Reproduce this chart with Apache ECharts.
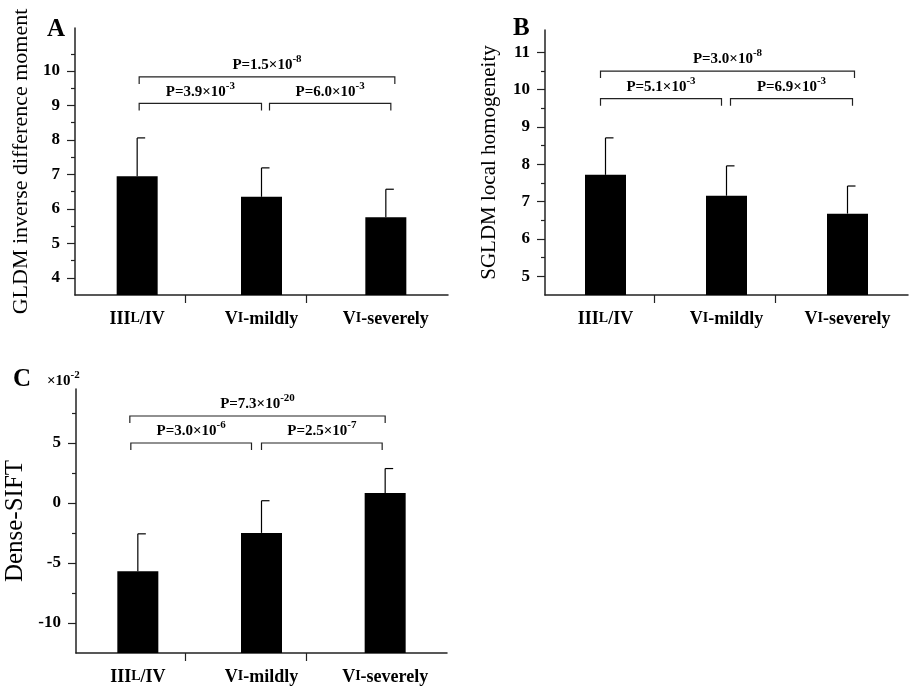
<!DOCTYPE html>
<html><head><meta charset="utf-8">
<script src="https://cdn.jsdelivr.net/npm/echarts@6/dist/echarts.min.js"></script>
<style>html,body{margin:0;padding:0;background:#fff}#c{width:909px;height:690px}</style>
</head><body><div id="c"></div>
<script>
// ---------- data ----------
const categories = ['IIIL/IV', 'VI-mildly', 'VI-severely'];

const aMeans = [6.95, 6.35, 5.76];
const aUpper = [8.06, 7.19, 6.57];
const bMeans = [7.72, 7.16, 6.68];
const bUpper = [8.71, 7.96, 7.42];
const cMeans = [-5.68, -2.49, 0.83];
const cUpper = [-2.57, 0.19, 2.87];

const aTicks = [4, 5, 6, 7, 8, 9, 10];
const aMinorTicks = [4.5, 5.5, 6.5, 7.5, 8.5, 9.5, 10.5];
const bTicks = [5, 6, 7, 8, 9, 10, 11];
const bMinorTicks = [5.5, 6.5, 7.5, 8.5, 9.5, 10.5];
const cTicks = [-10, -5, 0, 5];
const cMinorTicks = [-7.5, -2.5, 2.5, 7.5];

const comparisons = [[0, 2], [0, 1], [1, 2]];
const aPValues = [['1.5', '-8'], ['3.9', '-3'], ['6.0', '-3']];
const bPValues = [['3.0', '-8'], ['5.1', '-3'], ['6.9', '-3']];
const cPValues = [['7.3', '-20'], ['3.0', '-6'], ['2.5', '-7']];

const aTitle = 'GLDM inverse difference moment';
const bTitle = 'SGLDM local homogeneity';
const cTitle = 'Dense-SIFT';

// ---------- layout / style ----------
const SERIF = '"Liberation Serif", "DejaVu Serif", serif';
const INK = '#000';
const AXIS = '#222';

const panels = [
  { grid: { left: 75, top: 28, width: 373, height: 267 }, min: 3.5, max: 11.25,
    means: aMeans, upper: aUpper, ticks: aTicks, minor: aMinorTicks, pvals: aPValues,
    name: aTitle, nameSize: 22, nameGap: 43, levels: [9.83, 9.06, 9.06],
    dx: [[2, 9], [2, 0], [8, 5]], xTicks: [0.885, 1.858] },
  { grid: { left: 545, top: 30, width: 363, height: 265 }, min: 4.5, max: 11.6,
    means: bMeans, upper: bUpper, ticks: bTicks, minor: bMinorTicks, pvals: bPValues,
    name: bTitle, nameSize: 21, nameGap: 45, levels: [10.5, 9.76, 9.76],
    dx: [[-5, 7], [-5, -5], [4, 5]], xTicks: [0.901, 1.901] },
  { grid: { left: 76, top: 389, width: 371, height: 264 }, min: -12.5, max: 9.5,
    means: cMeans, upper: cUpper, ticks: cTicks, minor: cMinorTicks, pvals: cPValues,
    name: cTitle, nameSize: 25, nameGap: 48, levels: [7.25, 5.0, 5.0],
    dx: [[-8, 0], [-7, -10], [0, -3]], xTicks: [0.881, 1.860] }
];

function catLabel(s) {
  if (s.indexOf('IIIL') === 0) return '{n|III}{sc|L}{n|' + s.slice(4) + '}';
  if (s.indexOf('VI') === 0) return '{n|V}{sc|I}{n|' + s.slice(2) + '}';
  return '{n|' + s + '}';
}

const grids = [], xAxes = [], yAxes = [], series = [];

panels.forEach((p, k) => {
  grids.push(Object.assign({ containLabel: false }, p.grid));
  const xi = k * 2, yi = k * 2;
  xAxes.push({
    gridIndex: k, type: 'category', data: categories, boundaryGap: true, position: 'bottom',
    axisLine: { show: true, onZero: false, lineStyle: { color: AXIS, width: 1.5 } },
    axisTick: { show: false },
    axisLabel: {
      margin: 14, interval: 0, hideOverlap: false, formatter: catLabel, color: INK,
      rich: {
        n: { fontFamily: SERIF, fontWeight: 'bold', fontSize: 18, lineHeight: 20, color: INK },
        sc: { fontFamily: SERIF, fontWeight: 'bold', fontSize: 14, lineHeight: 20, padding: [0, 0, 2, 0], color: INK }
      }
    },
    splitLine: { show: false }
  });
  xAxes.push({
    gridIndex: k, type: 'value', min: 0, max: 3, position: 'bottom',
    axisLine: { show: false, onZero: false },
    axisTick: { show: true, customValues: p.xTicks, length: 8, lineStyle: { color: AXIS, width: 1.2 } },
    axisLabel: { show: false },
    splitLine: { show: false }
  });
  yAxes.push({
    gridIndex: k, type: 'value', min: p.min, max: p.max, startValue: p.min, position: 'left',
    name: p.name, nameLocation: 'middle', nameGap: p.nameGap, nameRotate: 90,
    nameTextStyle: { fontFamily: SERIF, fontSize: p.nameSize, color: INK },
    axisLine: { show: true, onZero: false, lineStyle: { color: AXIS, width: 1.5 } },
    axisTick: { show: true, customValues: p.ticks, length: 8, lineStyle: { color: AXIS, width: 1.2 } },
    axisLabel: { customValues: p.ticks, margin: 15, fontFamily: SERIF, fontWeight: 'bold', fontSize: 17, color: INK },
    splitLine: { show: false }
  });
  yAxes.push({
    gridIndex: k, type: 'value', min: p.min, max: p.max, position: 'left',
    axisLine: { show: false, onZero: false },
    axisTick: { show: true, customValues: p.minor, length: 4, lineStyle: { color: AXIS, width: 1.2 } },
    axisLabel: { show: false },
    splitLine: { show: false }
  });

  series.push({
    type: 'bar', xAxisIndex: xi, yAxisIndex: yi, data: p.means, barWidth: 41,
    itemStyle: { color: INK }, silent: true, z: 2
  });

  series.push({
    type: 'custom', xAxisIndex: xi, yAxisIndex: yi, silent: true, z: 3,
    data: p.means.map((m, i) => [i, m, p.upper[i]]),
    encode: { x: 0, y: [1, 2] },
    renderItem: (params, api) => {
      const i = api.value(0);
      const b = api.coord([i, api.value(1)]);
      const t = api.coord([i, api.value(2)]);
      return { type: 'group', children: [
        { type: 'line', shape: { x1: b[0], y1: b[1], x2: t[0], y2: t[1] }, style: { stroke: INK, lineWidth: 1.2 } },
        { type: 'line', shape: { x1: t[0], y1: t[1], x2: t[0] + 8, y2: t[1] }, style: { stroke: INK, lineWidth: 1.2 } }
      ] };
    }
  });

  series.push({
    type: 'custom', xAxisIndex: xi, yAxisIndex: yi, silent: true, z: 4, clip: false,
    data: comparisons.map((c, j) => [c[0], c[1], p.levels[j], j]),
    encode: { x: [0, 1], y: 2 },
    renderItem: (params, api) => {
      const j = api.value(3);
      const a = api.coord([api.value(0), api.value(2)]);
      const b = api.coord([api.value(1), api.value(2)]);
      const x1 = a[0] + p.dx[j][0], x2 = b[0] + p.dx[j][1], y = a[1], drop = 7;
      const pv = p.pvals[j];
      return { type: 'group', children: [
        { type: 'polyline', shape: { points: [[x1, y + drop], [x1, y], [x2, y], [x2, y + drop]] },
          style: { stroke: AXIS, lineWidth: 1.2, fill: null } },
        { type: 'text', x: (x1 + x2) / 2, y: y - 4,
          style: {
            text: '{m|P=' + pv[0] + '×10}{s|' + pv[1] + '}',
            align: 'center', verticalAlign: 'bottom',
            rich: {
              m: { fontFamily: SERIF, fontWeight: 'bold', fontSize: 15, lineHeight: 19, verticalAlign: 'bottom', fill: INK },
              s: { fontFamily: SERIF, fontWeight: 'bold', fontSize: 11, lineHeight: 11, verticalAlign: 'top', fill: INK }
            }
          } }
      ] };
    }
  });
});

const titles = [
  { text: 'A', left: 42, top: 12 },
  { text: 'B', left: 508, top: 11 },
  { text: 'C', left: 8, top: 362 }
].map(t => Object.assign(t, { textStyle: { fontFamily: SERIF, fontWeight: 'bold', fontSize: 25, color: INK } }));
titles.push({
  text: '{m|×10}{s|-2}', left: 42, top: 365,
  textStyle: {
    rich: {
      m: { fontFamily: SERIF, fontWeight: 'bold', fontSize: 15, lineHeight: 19, verticalAlign: 'bottom', color: INK },
      s: { fontFamily: SERIF, fontWeight: 'bold', fontSize: 11, lineHeight: 11, verticalAlign: 'top', color: INK }
    }
  }
});

const chart = echarts.init(document.getElementById('c'), null, { renderer: 'canvas' });
chart.setOption({
  animation: false,
  backgroundColor: '#fff',
  title: titles,
  grid: grids,
  xAxis: xAxes,
  yAxis: yAxes,
  series: series
});
</script>
</body></html>
